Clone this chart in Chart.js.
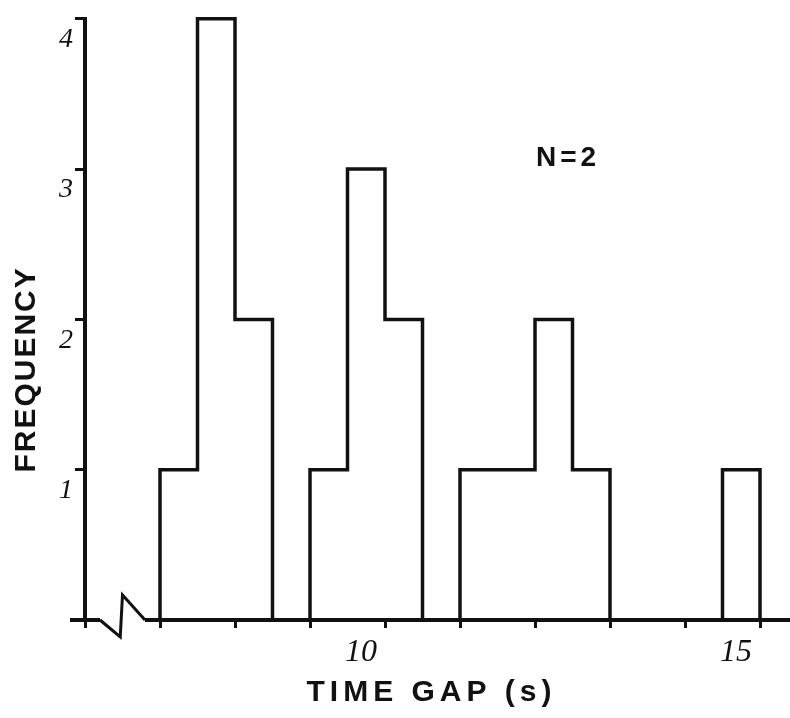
<!DOCTYPE html>
<html>
<head>
<meta charset="utf-8">
<script src="https://cdn.jsdelivr.net/npm/chart.js@4.4.1/dist/chart.umd.min.js"></script>
<style>
  html, body { margin: 0; padding: 0; background: #fff; }
  canvas { display: block; }
</style>
</head>
<body>
<canvas id="chart" width="790" height="718"></canvas>
<script>
// time gap histogram, bins 0.5 s wide
const binStarts = [7, 7.5, 8, 8.5, 9, 9.5, 10, 10.5, 11, 11.5, 12, 12.5, 13, 13.5, 14, 14.5];
const frequencies = [1, 4, 2, 0, 1, 3, 2, 0, 1, 1, 2, 1, 0, 0, 0, 1];
const binWidth = 0.5;
const xTicks = [6, 7, 8, 9, 10, 11, 12, 13, 14, 15];
const xTickLabels = ["", "", "", "", "10", "", "", "", "", "15"];
const yTicks = [1, 2, 3, 4];
const yTickLabels = ["1", "2", "3", "4"];
const sampleLabel = "N=2";

const INK = "#111";
const HAND = "'Liberation Serif', 'DejaVu Serif', serif";
const BLOCK = "'Liberation Sans', Arial, sans-serif";

// outline only: rise at the first edge, hold each bin, drop at the last edge
const outline = [{ x: binStarts[0], y: 0 }]
  .concat(binStarts.map((x, i) => ({ x, y: frequencies[i] })))
  .concat([{ x: binStarts[binStarts.length - 1] + binWidth, y: 0 }]);

const extras = {
  id: "extras",
  afterDraw(chart) {
    const { ctx, chartArea, scales: { x, y } } = chart;
    const base = y.getPixelForValue(0);
    ctx.save();

    ctx.strokeStyle = INK;
    // x axis carries on a little past the y axis
    ctx.lineWidth = 4;
    ctx.beginPath();
    ctx.moveTo(chartArea.left - 15, base);
    ctx.lineTo(chartArea.left, base);
    ctx.stroke();

    // axis break before the first bin
    const b0 = x.getPixelForValue(6.2);
    const b1 = x.getPixelForValue(6.8);
    ctx.fillStyle = "#fff";
    ctx.fillRect(b0, base - 4, b1 - b0, 8);
    ctx.lineWidth = 3;
    ctx.beginPath();
    ctx.moveTo(b0, base);
    ctx.lineTo(x.getPixelForValue(6.47), base + 17);
    ctx.lineTo(x.getPixelForValue(6.5), base - 25);
    ctx.lineTo(b1, base);
    ctx.stroke();

    ctx.fillStyle = INK;
    ctx.textAlign = "center";
    ctx.textBaseline = "middle";

    ctx.font = "bold 30px " + BLOCK;
    ctx.letterSpacing = "5px";
    ctx.fillText("TIME GAP (s)", (chartArea.left + chartArea.right) / 2 - 6, chartArea.bottom + 73);

    ctx.font = "bold 28px " + BLOCK;
    ctx.letterSpacing = "4px";
    ctx.fillText(sampleLabel, x.getPixelForValue(12.44), y.getPixelForValue(3.07));

    ctx.translate(27, (chartArea.top + chartArea.bottom) / 2 + 50);
    ctx.rotate(-Math.PI / 2);
    ctx.font = "bold 30px " + BLOCK;
    ctx.letterSpacing = "2px";
    ctx.fillText("FREQUENCY", 0, 0);

    ctx.restore();
  }
};

new Chart(document.getElementById("chart"), {
  type: "line",
  data: {
    datasets: [{
      data: outline,
      stepped: true,
      borderColor: INK,
      borderWidth: 3.5,
      pointRadius: 0,
      fill: false,
      clip: false
    }]
  },
  options: {
    responsive: false,
    animation: false,
    layout: { autoPadding: false, padding: { left: 0, top: 15, right: 0, bottom: 0 } },
    plugins: { legend: { display: false }, tooltip: { enabled: false } },
    scales: {
      x: {
        type: "linear",
        position: "bottom",
        min: 6,
        max: 15.4,
        afterBuildTicks: (scale) => { scale.ticks = xTicks.map((v) => ({ value: v })); },
        afterFit: (scale) => { scale.height = 98; },
        border: { display: true, color: INK, width: 4 },
        grid: { drawOnChartArea: false, drawTicks: true, tickLength: 8, tickWidth: 3, tickColor: INK },
        ticks: {
          autoSkip: false,
          maxRotation: 0,
          padding: 5,
          labelOffset: -24,
          color: INK,
          font: { family: HAND, style: "italic", size: 32 },
          callback: (v) => xTickLabels[xTicks.indexOf(v)] ?? ""
        }
      },
      y: {
        type: "linear",
        position: "left",
        min: 0,
        max: 4,
        afterBuildTicks: (scale) => { scale.ticks = yTicks.map((v) => ({ value: v })); },
        afterFit: (scale) => { scale.width = 85; },
        border: { display: true, color: INK, width: 4 },
        grid: { drawOnChartArea: false, drawTicks: true, tickLength: 10, tickWidth: 3, tickColor: INK },
        ticks: {
          padding: 2,
          labelOffset: 21,
          color: INK,
          font: { family: HAND, style: "italic", size: 28 },
          callback: (v) => yTickLabels[yTicks.indexOf(v)] ?? ""
        }
      }
    }
  },
  plugins: [extras]
});
</script>
</body>
</html>
